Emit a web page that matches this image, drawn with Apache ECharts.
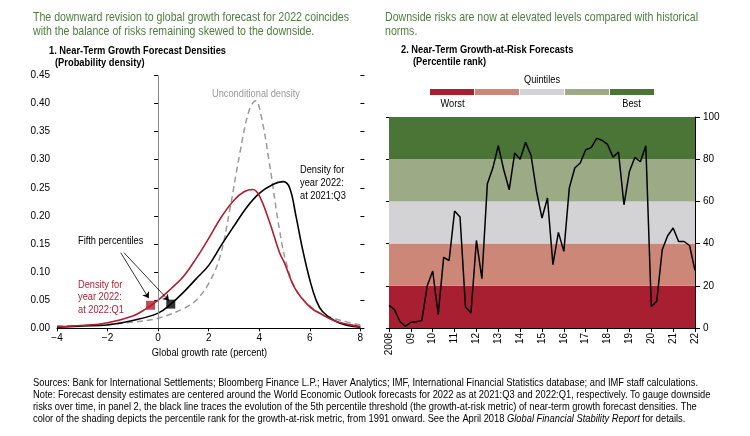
<!DOCTYPE html>
<html><head><meta charset="utf-8">
<script src="https://cdn.jsdelivr.net/npm/echarts/dist/echarts.min.js"></script>
<style>html,body{margin:0;padding:0;background:#fff}#c{width:750px;height:436px}</style>
</head><body><div id="c"></div>
<script>
// ---------- Panel 1 data: growth rate (percent), probability density ----------
const redDensity = [[-4,0.003],[-3,0.005],[-2,0.010],[-1,0.022],[-0.5,0.034],[0,0.050],[0.5,0.070],[1,0.092],[1.5,0.124],[2,0.160],[2.5,0.198],[3,0.228],[3.4,0.243],[3.75,0.247],[4,0.236],[4.4,0.190],[4.8,0.135],[5.0,0.116],[5.4,0.072],[6,0.038],[6.5,0.024],[7,0.013],[7.5,0.007],[8,0.003]];
const blackDensity = [[-4,0.002],[-3,0.004],[-2,0.006],[-1,0.014],[0,0.027],[0.5,0.043],[1,0.064],[1.5,0.088],[2,0.112],[2.5,0.148],[3,0.182],[3.5,0.215],[4,0.240],[4.5,0.255],[4.95,0.261],[5.2,0.250],[5.45,0.200],[5.72,0.139],[6,0.086],[6.25,0.050],[6.5,0.030],[7,0.013],[7.5,0.005],[8,0.002]];
const unconditionalDensity = [[-4,0.004],[-3,0.005],[-2,0.007],[-1,0.011],[0,0.018],[1,0.035],[1.5,0.050],[2,0.080],[2.45,0.128],[2.83,0.210],[3.23,0.311],[3.6,0.388],[3.86,0.405],[4.08,0.377],[4.4,0.294],[4.8,0.175],[5.07,0.116],[5.46,0.068],[6,0.040],[6.5,0.025],[7,0.017],[7.5,0.011],[8,0.006]];
const fifthPctRed = [[-0.3,0.041]];
const fifthPctBlack = [[0.5,0.043]];
const densityTicks = {min:-4, max:8, interval:2, ymin:0, ymax:0.45, yinterval:0.05};

// ---------- Panel 2 data: growth-at-risk percentile rank, quarterly 2008:Q1 - 2022:Q1 ----------
const garStartYear = 2008;
const garEndYear = 2022;
const garValues = [10.7,8.7,3.1,0.8,2.7,3.0,3.5,20,27,6.3,33.5,32,55.4,52.6,10,7.1,41.5,23.4,68.4,75.8,86.4,75,65.5,82.9,80,88,81.7,64.7,52.1,61.6,30,45.3,36.3,66.4,75.8,78.2,84.5,85.5,89.9,88.9,87,81,83.4,58.4,74.2,80.9,78.8,86.4,10.2,12.6,37.1,43.7,47.4,41,41,39.1,27.3];
const quintileBounds = [0,20,40,60,80,100];
const quintileColors = ['#A71F30','#CC8779','#D3D3D5','#9CAA86','#4B7537'];

const garData = garValues.map((v,i)=>[garStartYear + i/4, v]);

const FONT = "'Liberation Sans',Arial,sans-serif";
const GREEN = '#4D7F3C';
const RED = '#B01E32';

// condensed look: horizontal scale fitted to reference text widths
const mctx = document.createElement('canvas').getContext('2d');
function measure(text, font){ mctx.font = font; return mctx.measureText(text).width; }
const fGreen = '13px ' + FONT, fBold = 'bold 11.5px ' + FONT, fAnn = '11.5px ' + FONT, fFn = '10.5px ' + FONT;
const sGreen = 316 / measure('The downward revision to global growth forecast for 2022 coincides', fGreen);
const sBold = 177 / measure('1. Near-Term Growth Forecast Densities', fBold);
const sAnn = 88 / measure('Unconditional density', fAnn);

function txt(x,y,text,font,scale,opt){
  opt = opt||{};
  return {type:'text', x:x, y:y, scaleX:scale, silent:true, z:100,
    style:{text:text, fill:opt.fill||'#000', font:font,
      textAlign:opt.align||'left', textVerticalAlign:'middle'}};
}

const graphics = [];
graphics.push(txt(33,17,'The downward revision to global growth forecast for 2022 coincides',fGreen,sGreen,{fill:GREEN}));
graphics.push(txt(33,31.5,'with the balance of risks remaining skewed to the downside.',fGreen,sGreen,{fill:GREEN}));
graphics.push(txt(385,17,'Downside risks are now at elevated levels compared with historical',fGreen,sGreen,{fill:GREEN}));
graphics.push(txt(385,31.5,'norms.',fGreen,sGreen,{fill:GREEN}));
graphics.push(txt(49,51,'1. Near-Term Growth Forecast Densities',fBold,sBold));
graphics.push(txt(55,63,'(Probability density)',fBold,sBold));
graphics.push(txt(401,50,'2. Near-Term Growth-at-Risk Forecasts',fBold,sBold));
graphics.push(txt(413,62,'(Percentile rank)',fBold,sBold));
// annotations panel 1
graphics.push(txt(256,94,'Unconditional density',fAnn,sAnn,{fill:'#999',align:'center'}));
graphics.push(txt(300,170,'Density for',fAnn,sAnn));
graphics.push(txt(300,183,'year 2022:',fAnn,sAnn));
graphics.push(txt(300,195.5,'at 2021:Q3',fAnn,sAnn));
graphics.push(txt(78,241,'Fifth percentiles',fAnn,sAnn));
graphics.push(txt(78,284.5,'Density for',fAnn,sAnn,{fill:RED}));
graphics.push(txt(78,297,'year 2022:',fAnn,sAnn,{fill:RED}));
graphics.push(txt(78,309.5,'at 2022:Q1',fAnn,sAnn,{fill:RED}));
graphics.push(txt(209.5,353,'Global growth rate (percent)',fAnn,sAnn,{align:'center'}));
// quintile legend
graphics.push(txt(542,80,'Quintiles',fAnn,sAnn,{align:'center'}));
quintileColors.forEach((c,i)=>{
  graphics.push({type:'rect', silent:true, shape:{x:430+i*45, y:89, width:44, height:6}, style:{fill:c}});
});
graphics.push(txt(452.5,104,'Worst',fAnn,sAnn,{align:'center'}));
graphics.push(txt(631.5,104,'Best',fAnn,sAnn,{align:'center'}));
// footnote
const fnLines = [
 'Sources: Bank for International Settlements; Bloomberg Finance L.P.; Haver Analytics; IMF, International Financial Statistics database; and IMF staff calculations.',
 'Note: Forecast density estimates are centered around the World Economic Outlook forecasts for 2022 as at 2021:Q3 and 2022:Q1, respectively. To gauge downside',
 'risks over time, in panel 2, the black line traces the evolution of the 5th percentile threshold (the growth-at-risk metric) of near-term growth forecast densities. The',
 'color of the shading depicts the percentile rank for the growth-at-risk metric, from 1991 onward. See the April 2018 {i|Global Financial Stability Report} for details.'
];
const sFn = 665 / measure(fnLines[0], fFn);
fnLines.forEach((l,i)=>{
  graphics.push({type:'text', x:33, y:383+i*12, scaleX:sFn, silent:true,
    style:{text:l, fill:'#000', fontSize:10.5, fontFamily:FONT, textVerticalAlign:'middle',
      rich:{i:{fontStyle:'italic', fontSize:10.5, fontFamily:FONT, fill:'#000'}}}});
});

const axisLbl = {color:'#000', fontSize:10, fontFamily:FONT};

const option = {
  animation:false,
  backgroundColor:'#fff',
  textStyle:{fontFamily:FONT},
  grid:[
    {left:57, top:75.4, width:303.4, height:252.9},
    {left:389, top:117, width:306, height:211}
  ],
  xAxis:[
    {gridIndex:0, type:'value', min:densityTicks.min, max:densityTicks.max, interval:densityTicks.interval,
      axisLine:{lineStyle:{color:'#000', width:1}}, axisTick:{show:true, length:3, lineStyle:{color:'#000'}},
      splitLine:{show:false},
      axisLabel:Object.assign({margin:5, formatter:v=>v<0?'\u2212'+Math.abs(v):String(v)},axisLbl)},
    {gridIndex:1, type:'value', min:garStartYear, max:garEndYear, interval:1,
      axisLine:{lineStyle:{color:'#000', width:1}}, axisTick:{show:true, length:4, lineStyle:{color:'#000'}},
      splitLine:{show:false},
      axisLabel:Object.assign({rotate:90, margin:5, formatter:v=>v===garStartYear?String(v):String(v).slice(2)},axisLbl)}
  ],
  yAxis:[
    {gridIndex:0, type:'value', min:densityTicks.ymin, max:densityTicks.ymax, interval:densityTicks.yinterval,
      axisLine:{show:false}, axisTick:{show:true, length:4, lineStyle:{color:'#000'}}, splitLine:{show:false},
      axisLabel:Object.assign({margin:7, formatter:v=>v.toFixed(2)},axisLbl)},
    {gridIndex:0, type:'value', position:'right', min:densityTicks.ymin, max:densityTicks.ymax, interval:densityTicks.yinterval,
      axisLine:{show:false}, axisTick:{show:true, length:4, lineStyle:{color:'#000'}}, splitLine:{show:false},
      axisLabel:{show:false}},
    {gridIndex:1, type:'value', position:'right', min:0, max:100, interval:20,
      axisLine:{show:true, lineStyle:{color:'#000'}}, axisTick:{show:true, length:5, lineStyle:{color:'#000'}}, splitLine:{show:false},
      axisLabel:Object.assign({margin:8},axisLbl)},
    {gridIndex:1, type:'value', position:'left', min:0, max:100, interval:20,
      axisLine:{show:false}, axisTick:{show:true, length:3, lineStyle:{color:'#000'}}, splitLine:{show:false},
      axisLabel:{show:false}}
  ],
  series:[
    {type:'line', xAxisIndex:0, yAxisIndex:0, data:unconditionalDensity, smooth:0.4, showSymbol:false,
      lineStyle:{color:'#9a9a9a', width:1.5, type:[6,4]}, z:2,
      markLine:{silent:true, symbol:'none', label:{show:false}, lineStyle:{color:'#8a8a8a', width:1, type:'solid'},
        data:[{xAxis:0}]}},
    {type:'line', xAxisIndex:0, yAxisIndex:0, data:blackDensity, smooth:0.4, showSymbol:false,
      lineStyle:{color:'#000', width:1.6}, z:3},
    {type:'line', xAxisIndex:0, yAxisIndex:0, data:redDensity, smooth:0.4, showSymbol:false,
      lineStyle:{color:RED, width:1.6}, z:4},
    {type:'scatter', xAxisIndex:0, yAxisIndex:0, data:fifthPctRed, symbol:'rect', symbolSize:9,
      itemStyle:{color:RED}, z:6,
      markLine:{silent:true, symbol:['none','arrow'], symbolSize:6, label:{show:false},
        lineStyle:{color:'#000', width:0.8, type:'solid'},
        data:[
          [{coord:[-1.48,0.1345]},{coord:[-0.37,0.0534]}],
          [{coord:[-1.35,0.1345]},{coord:[0.43,0.049]}]
        ]}},
    {type:'scatter', xAxisIndex:0, yAxisIndex:0, data:fifthPctBlack, symbol:'rect', symbolSize:9,
      itemStyle:{color:'#000'}, z:6},
    {type:'line', xAxisIndex:1, yAxisIndex:2, data:garData, showSymbol:false,
      lineStyle:{color:'#000', width:1.5}, z:5,
      markArea:{silent:true,
        data:quintileColors.map((c,i)=>[
          {xAxis:garStartYear, yAxis:quintileBounds[i], itemStyle:{color:c}},
          {xAxis:garEndYear, yAxis:quintileBounds[i+1]}])}}
  ],
  graphic:graphics
};
const chart = echarts.init(document.getElementById('c'), null, {renderer:'canvas'});
chart.setOption(option);
</script></body></html>
